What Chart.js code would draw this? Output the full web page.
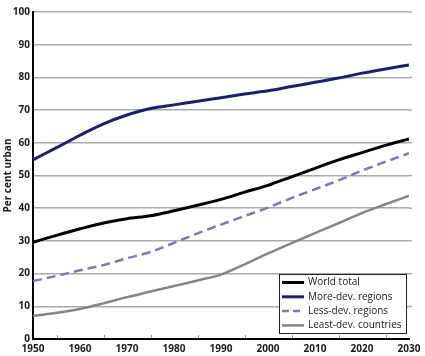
<!DOCTYPE html>
<html>
<head>
<meta charset="utf-8">
<script src="https://cdn.jsdelivr.net/npm/chart.js@4.4.1/dist/chart.umd.min.js"></script>
<style>
html,body{margin:0;padding:0;background:#fff;}
#wrap{position:relative;width:425px;height:356px;}
</style>
</head>
<body>
<div id="wrap"><canvas id="c" width="425" height="356"></canvas></div>
<script>
const years = [1950,1955,1960,1965,1970,1975,1980,1985,1990,1995,2000,2005,2010,2015,2020,2025,2030];
const worldTotal = [29.6,31.7,33.7,35.5,36.8,37.7,39.2,40.9,42.7,44.9,47.0,49.6,52.2,54.8,57.0,59.2,61.2];
const moreDev    = [54.8,58.5,62.3,65.8,68.5,70.5,71.6,72.7,73.8,74.9,75.9,77.2,78.5,79.8,81.3,82.6,83.8];
const lessDev    = [17.7,19.3,21.0,22.6,24.7,26.6,29.4,32.3,35.0,37.6,40.2,43.1,45.8,48.5,51.5,54.2,56.8];
const leastDev   = [7.0,8.0,9.2,10.9,12.8,14.5,16.2,17.9,19.7,22.8,26.2,29.3,32.4,35.4,38.5,41.2,43.8];
const seriesLabels = ['World total','More-dev. regions','Less-dev. regions','Least-dev. countries'];
const yTitle = 'Per cent urban';

const pts = arr => arr.map((v,i)=>({x:years[i], y:v}));

const styles = [
  {color:'#000000', width:3, dash:[]},
  {color:'#1c1f6b', width:3, dash:[]},
  {color:'#7b7bab', width:2.5, dash:[9,5]},
  {color:'#858585', width:2.5, dash:[]}
];
const values = [worldTotal, moreDev, lessDev, leastDev];

const legendPlugin = {
  id:'boxLegend',
  afterDatasetsDraw(chart){
    const ctx = chart.ctx;
    const x0 = 279, y0 = 274, w = 127, h = 59;
    ctx.save();
    ctx.fillStyle = '#fff';
    ctx.fillRect(x0,y0,w,h);
    ctx.strokeStyle = '#222';
    ctx.lineWidth = 1;
    ctx.strokeRect(x0+0.5,y0+0.5,w,h);
    ctx.font = '10px "Open Sans", sans-serif';
    ctx.textBaseline = 'middle';
    chart.data.datasets.forEach((ds,i)=>{
      const yy = y0 + 8.5 + i*14.3;
      ctx.beginPath();
      ctx.strokeStyle = ds.borderColor;
      ctx.lineWidth = ds.borderWidth;
      ctx.setLineDash(ds.borderDash && ds.borderDash.length ? [7,4] : []);
      ctx.moveTo(x0+3, yy);
      ctx.lineTo(x0+25, yy);
      ctx.stroke();
      ctx.setLineDash([]);
      ctx.fillStyle = '#1a1a1a';
      ctx.fillText(ds.label, x0+29, yy);
    });
    ctx.restore();
  }
};

const extras = {
  id:'extras',
  beforeDatasetsDraw(chart){
    // extend gridlines slightly past the right end, like the reference
    const ctx = chart.ctx;
    const xs = chart.scales.x, ys = chart.scales.y;
    const xr = xs.getPixelForValue(2030);
    ctx.save();
    ctx.strokeStyle = '#a9a9a9';
    ctx.lineWidth = 1.5;
    ys.ticks.forEach(t=>{
      if (t.value === 0) return;
      const py = ys.getPixelForValue(t.value);
      ctx.beginPath();
      ctx.moveTo(xr, py);
      ctx.lineTo(xr+3, py);
      ctx.stroke();
    });
    ctx.restore();
  },
  afterDraw(chart){
    const ctx = chart.ctx;
    const xs = chart.scales.x, ys = chart.scales.y;
    const yb = ys.getPixelForValue(0);
    ctx.save();
    ctx.strokeStyle = '#999';
    ctx.lineWidth = 1;
    years.forEach(yr=>{
      if (yr % 10 === 0) return;
      const px = Math.round(xs.getPixelForValue(yr))+0.5;
      ctx.beginPath();
      ctx.moveTo(px, yb-1);
      ctx.lineTo(px, yb-4);
      ctx.stroke();
    });
    ctx.restore();
  }
};

new Chart(document.getElementById('c'), {
  type:'line',
  data:{
    datasets: values.map((arr,i)=>({
      label: seriesLabels[i],
      data: pts(arr),
      borderColor: styles[i].color,
      borderWidth: styles[i].width,
      borderDash: styles[i].dash,
      pointRadius:0,
      tension:0.35,
      cubicInterpolationMode:'monotone',
      fill:false
    }))
  },
  options:{
    responsive:false,
    animation:false,
    layout:{padding:{left:0,right:16,top:12,bottom:0}},
    plugins:{legend:{display:false}, tooltip:{enabled:false}},
    scales:{
      x:{
        type:'linear', min:1950, max:2030,
        afterFit(s){ s.height = 17; },
        grid:{display:false, drawTicks:false},
        border:{display:true, color:'#000', width:2},
        ticks:{stepSize:10, padding:4, color:'#1a1a1a', maxRotation:0,
          font:{family:'"Open Sans", sans-serif', size:10, weight:'bold'},
          callback:v=>String(v)}
      },
      y:{
        min:0, max:100,
        afterFit(s){ s.width = 33; },
        grid:{color:'#a9a9a9', lineWidth:1.5, drawTicks:false},
        border:{display:true, color:'#000', width:2},
        ticks:{stepSize:10, padding:3, color:'#1a1a1a',
          font:{family:'"Open Sans", sans-serif', size:10, weight:'bold'}},
        title:{display:true, text:yTitle, color:'#1a1a1a', padding:{top:2,bottom:0},
          font:{family:'"Open Sans", sans-serif', size:10, weight:'bold'}}
      }
    }
  },
  plugins:[legendPlugin, extras]
});
</script>
</body>
</html>
